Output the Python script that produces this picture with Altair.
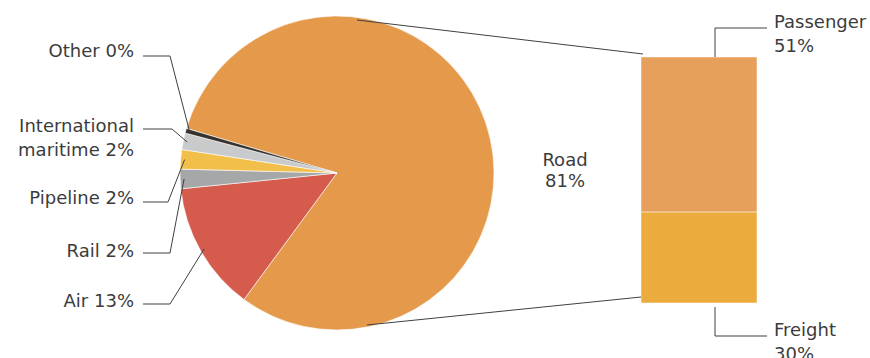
import math
import textwrap
import altair as alt
import pandas as pd

# ---------------- data ----------------
modes = ["Road", "Air", "Rail", "Pipeline", "International maritime", "Other"]
shares = [80.5, 13.3, 2.0, 2.0, 1.7, 0.49]

road_parts = ["Freight", "Passenger"]          # bottom to top
road_values = [30, 51]

# ---------------- style / layout ----------------
mode_colors = ["#e5994b", "#d55c4d", "#a6a7a9", "#f3bf4b", "#c9cacc", "#36312c"]
part_colors = ["#ebac3d", "#e7a05b"]

W, H = 870, 358
CX, CY, R = 337, 173, 157
START_DEG = 286.5          # clockwise from 12 o'clock, where Road begins
FONT = "DejaVu Sans"
FS = 18
TXT = "#3c3c3c"
LINE = "#404040"

BAR_X0, BAR_X1 = 641, 757
BAR_TOP, BAR_BOT = 57, 303

# left labels: baselines, leader y and elbow x per mode
left_baselines = {"Other": 57, "International maritime": 132, "Pipeline": 204, "Rail": 257, "Air": 307}
left_leader_y = {"Other": 56, "International maritime": 129, "Pipeline": 202, "Rail": 253, "Air": 304}
left_elbow_x = {"Other": 170, "International maritime": 172, "Pipeline": 168, "Rail": 170, "Air": 170}
LEFT_TEXT_X = 134
LEFT_LEADER_X0 = 143
LINE_H = 24
LEADER_R = 153

# ---------------- pie ----------------
total = sum(shares)
pie_df = pd.DataFrame({"name": modes, "value": shares, "order": list(range(len(modes)))})
a0 = math.radians(START_DEG)
pie = alt.Chart(pie_df).mark_arc(radius=R, stroke="white", strokeWidth=0.6).encode(
    theta=alt.Theta("value:Q", stack=True, scale=alt.Scale(domain=[0, total], range=[a0, a0 + 2 * math.pi])),
    color=alt.Color("name:N", scale=alt.Scale(domain=modes + road_parts, range=mode_colors + part_colors), legend=None),
    order=alt.Order("order:Q"),
    x=alt.value(CX),
    y=alt.value(CY),
)

# ---------------- bar ----------------
bar_df = pd.DataFrame({"name": road_parts, "value": road_values, "order": list(range(len(road_parts)))})
bar = alt.Chart(bar_df).transform_stack(
    stack="value", groupby=[], as_=["v0", "v1"], sort=[alt.SortField("order", order="ascending")]
).mark_rect(stroke="white", strokeWidth=0.5).encode(
    y=alt.Y("v0:Q", scale=alt.Scale(domain=[0, sum(road_values)], range=[BAR_BOT, BAR_TOP]), axis=None),
    y2="v1:Q",
    color=alt.Color("name:N", legend=None),
    x=alt.value(BAR_X0),
    x2=alt.value(BAR_X1),
)

# ---------------- leader lines ----------------
segs = []
cum = 0.0
for name, v in zip(modes, shares):
    mid = START_DEG + 360.0 * (cum + v / 2.0) / total
    cum += v
    if name not in left_leader_y:
        continue
    ex = CX + LEADER_R * math.sin(math.radians(mid))
    ey = CY - LEADER_R * math.cos(math.radians(mid))
    ly = left_leader_y[name]
    bx = left_elbow_x[name]
    segs.append({"x": LEFT_LEADER_X0, "y": ly, "x2": bx, "y2": ly})
    segs.append({"x": bx, "y": ly, "x2": ex, "y2": ey})

# right side leaders
segs += [
    {"x": 715, "y": BAR_TOP, "x2": 715, "y2": 28},
    {"x": 715, "y": 28, "x2": 767, "y2": 28},
    {"x": 715, "y": 307, "x2": 715, "y2": 336},
    {"x": 715, "y": 336, "x2": 767, "y2": 336},
]
# pie-to-bar connectors
segs += [
    {"x": 357, "y": 20, "x2": 643, "y2": 54},
    {"x": 367, "y": 325, "x2": 641, "y2": 297},
]
seg_df = pd.DataFrame(segs)
rules = alt.Chart(seg_df).mark_rule(color=LINE, strokeWidth=1).encode(
    x=alt.X("x:Q", scale=None),
    y=alt.Y("y:Q", scale=None),
    x2="x2:Q",
    y2="y2:Q",
)

# ---------------- labels ----------------
def pct(v):
    return f"{int(math.floor(v + 0.5))}%"

left_rows = []
for name, v in zip(modes, shares):
    if name not in left_baselines:
        continue
    lines = textwrap.wrap(f"{name} {pct(v)}", 13)
    for i, ln in enumerate(lines):
        left_rows.append({"t": ln, "x": LEFT_TEXT_X, "y": left_baselines[name] + i * LINE_H})

road_share = shares[modes.index("Road")]
center_rows = [
    {"t": "Road", "x": 565, "y": 166},
    {"t": pct(road_share), "x": 565, "y": 187},
]

right_rows = []
right_base = {"Passenger": 28, "Freight": 336}
for name, v in zip(road_parts, road_values):
    right_rows.append({"t": name, "x": 774, "y": right_base[name]})
    right_rows.append({"t": pct(v), "x": 774, "y": right_base[name] + LINE_H})


def text_layer(rows, align):
    return alt.Chart(pd.DataFrame(rows)).mark_text(
        align=align, baseline="alphabetic", font=FONT, fontSize=FS, color=TXT
    ).encode(
        x=alt.X("x:Q", scale=None),
        y=alt.Y("y:Q", scale=None),
        text="t:N",
    )


chart = alt.layer(
    pie,
    bar,
    rules,
    text_layer(left_rows, "right"),
    text_layer(center_rows, "center"),
    text_layer(right_rows, "left"),
).properties(
    width=W,
    height=H,
    autosize=alt.AutoSizeParams(type="none"),
    padding=0,
).configure_view(stroke=None)

chart.save("out.html", embed_options={"renderer": "svg", "actions": False})
